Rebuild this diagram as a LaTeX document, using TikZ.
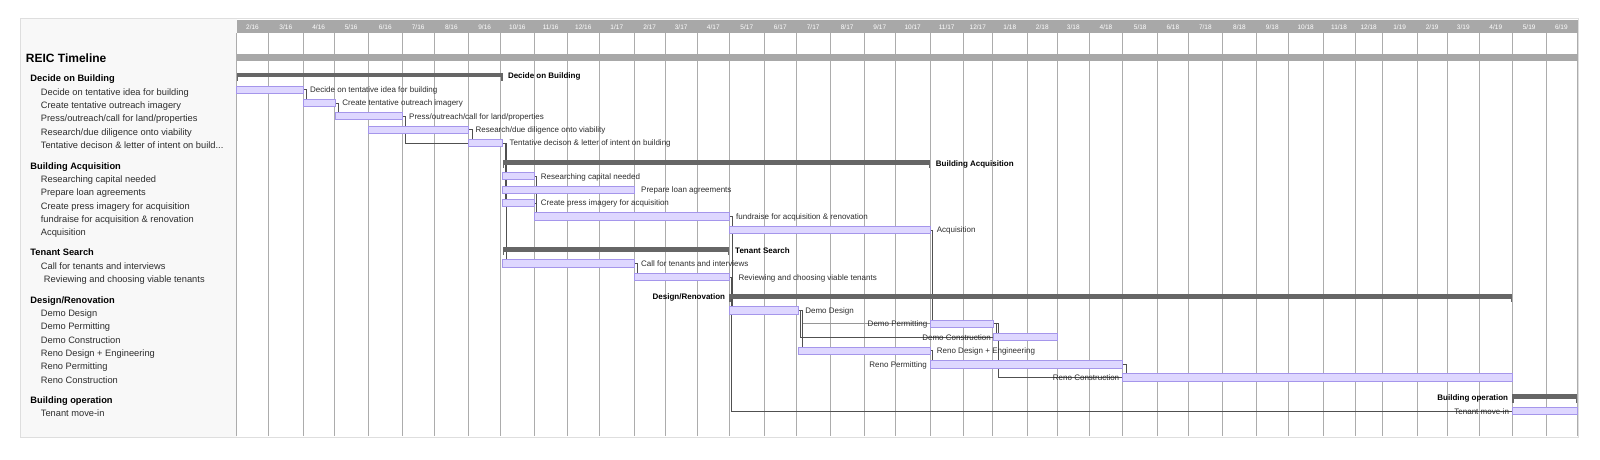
\documentclass[tikz,border=0pt]{standalone}
\usepackage{fontspec}
\setmainfont{Liberation Sans}
\usetikzlibrary{calc}
\definecolor{barfill}{RGB}{222,215,255}
\definecolor{barline}{RGB}{165,150,235}
\definecolor{grpc}{RGB}{102,102,102}
\definecolor{hdr}{RGB}{168,168,168}
\definecolor{gridc}{RGB}{172,172,172}
\definecolor{connc}{RGB}{80,80,80}
\definecolor{connl}{RGB}{150,150,150}
\definecolor{panelc}{RGB}{248,248,248}
\definecolor{panelb}{RGB}{222,222,222}
\definecolor{txtc}{RGB}{45,45,45}
\newcommand\mkbar[4]{\node[tbar, minimum width={#3pt-#2pt}] (#1) at (#2,#4) {};}
\newcommand\mkgrp[4]{\node[gbar, minimum width={#3pt-#2pt}] (#1) at (#2,#4) {};
  \draw[gtick] ([xshift=0.65pt]#1.south west) -- ++(0,3.5);
  \draw[gtick] ([xshift=-0.65pt]#1.south east) -- ++(0,3.5);}
\begin{document}
\begin{tikzpicture}[x=1pt,y=-1pt,
  tbar/.style={draw=barline, fill=barfill, line width=0.9pt, minimum height=7.2pt, inner sep=0pt, outer sep=0pt, anchor=west},
  gbar/.style={fill=grpc, minimum height=4.6pt, inner sep=0pt, outer sep=0pt, anchor=west},
  gtick/.style={draw=grpc, line width=1.3pt},
  link/.style={draw=connc, line width=0.8pt},
  linkl/.style={draw=connl, line width=0.8pt},
  gridline/.style={draw=gridc, line width=0.9pt},
  leftlbl/.style={anchor=west, inner sep=0pt, text height=6.7pt, text depth=0pt, font=\fontsize{9.3}{11}\selectfont, text=txtc},
  leftgrp/.style={anchor=west, inner sep=0pt, text height=6.7pt, text depth=0pt, font=\fontsize{9.3}{11}\selectfont\bfseries, text=black},
  titlelbl/.style={anchor=west, inner sep=0pt, text height=8.6pt, text depth=0pt, font=\fontsize{12}{14}\selectfont\bfseries, text=black},
  clbl/.style={inner sep=0pt, text height=5.8pt, text depth=0pt, font=\fontsize{8}{10}\selectfont, text=txtc},
  cgrp/.style={inner sep=0pt, text height=5.8pt, text depth=0pt, font=\fontsize{8}{10}\selectfont\bfseries, text=black},
  datelbl/.style={inner sep=0pt, text height=4.7pt, text depth=0pt, font=\fontsize{6.5}{8}\selectfont, text=white}
]
\useasboundingbox (0,0) rectangle (1600,459);
\fill[white] (0,0) rectangle (1600,459);
% panel
\draw[draw=panelb, fill=white, line width=0.9pt] (20.5,18.5) rectangle (1578,437);
\fill[panelc] (21,19) rectangle (236.7,436.5);
% header
\fill[hdr] (236.7,20) rectangle (1577.5,33.3);
\foreach \xa/\xb/\m/\y in {236.7/268.3/2/16,268.3/303.3/3/16,303.3/334/4/16,334/368.3/5/16,368.3/402.3/6/16,402.3/434/7/16,434/468.7/8/16,468.7/500.7/9/16,500.7/534/10/16,534/567.3/11/16,567.3/599.3/12/16,599.3/634.3/1/17,634.3/665/2/17,665/697.3/3/17,697.3/729.3/4/17,729.3/764.3/5/17,764.3/796.3/6/17,796.3/830/7/17,830/864.3/8/17,864.3/895.3/9/17,895.3/930/10/17,930/963.3/11/17,963.3/992.3/12/17,992.3/1027.3/1/18,1027.3/1057.3/2/18,1057.3/1089.3/3/18,1089.3/1122.7/4/18,1122.7/1157.7/5/18,1157.7/1188/6/18,1188/1222.7/7/18,1222.7/1256.3/8/18,1256.3/1288.3/9/18,1288.3/1323/10/18,1323/1355/11/18,1355/1382.3/12/18,1382.3/1417/1/19,1417/1447.3/2/19,1447.3/1479.3/3/19,1479.3/1512.3/4/19,1512.3/1546/5/19,1546/1576.7/6/19}
  \node[datelbl] (hd-\m-\y) at ({(\xa+\xb)/2},26.8) {\m/\y};
% grid
\foreach \gx in {236.7,268.3,303.3,334,368.3,402.3,434,468.7,500.7,534,567.3,599.3,634.3,665,697.3,729.3,764.3,796.3,830,864.3,895.3,930,963.3,992.3,1027.3,1057.3,1089.3,1122.7,1157.7,1188,1222.7,1256.3,1288.3,1323,1355,1382.3,1417,1447.3,1479.3,1512.3,1546,1577}
  \draw[gridline] (\gx,33.3) -- (\gx,435.5);
% summary bar
\fill[hdr] (236.7,54) rectangle (1577.5,61);
\node[titlelbl] (title) at (25.7,57.7) {REIC Timeline};

% ---------- left labels ----------
\node[leftgrp] (lg1) at (30.3,78.5) {Decide on Building};
\node[leftlbl] (lt11) at (40.7,91.7) {Decide on tentative idea for building};
\node[leftlbl] (lt12) at (40.7,105) {Create tentative outreach imagery};
\node[leftlbl] (lt13) at (40.7,118.3) {Press/outreach/call for land/properties};
\node[leftlbl] (lt14) at (40.7,131.7) {Research/due diligence onto viability};
\node[leftlbl] (lt15) at (40.7,145) {Tentative decison \& letter of intent on build...};
\node[leftgrp] (lg2) at (30.3,165.7) {Building Acquisition};
\node[leftlbl] (lt21) at (40.7,179) {Researching capital needed};
\node[leftlbl] (lt22) at (40.7,192.3) {Prepare loan agreements};
\node[leftlbl] (lt23) at (40.7,205.7) {Create press imagery for acquisition};
\node[leftlbl] (lt24) at (40.7,219) {fundraise for acquisition \& renovation};
\node[leftlbl] (lt25) at (40.7,232.3) {Acquisition};
\node[leftgrp] (lg3) at (30.3,252.3) {Tenant Search};
\node[leftlbl] (lt31) at (40.7,265.7) {Call for tenants and interviews};
\node[leftlbl] (lt32) at (43.7,279) {Reviewing and choosing viable tenants};
\node[leftgrp] (lg4) at (30.3,299.7) {Design/Renovation};
\node[leftlbl] (lt41) at (40.7,313) {Demo Design};
\node[leftlbl] (lt42) at (40.7,326.3) {Demo Permitting};
\node[leftlbl] (lt43) at (40.7,339.7) {Demo Construction};
\node[leftlbl] (lt44) at (40.7,353) {Reno Design + Engineering};
\node[leftlbl] (lt45) at (40.7,366.3) {Reno Permitting};
\node[leftlbl] (lt46) at (40.7,379.7) {Reno Construction};
\node[leftgrp] (lg5) at (30.3,399.7) {Building operation};
\node[leftlbl] (lt51) at (40.7,413) {Tenant move-in};

% ---------- bar coordinates (invisible first pass for connectors) ----------
\begin{scope}[tbar/.append style={draw=none, fill=none}, gbar/.append style={fill=none}, gtick/.append style={draw=none}]
\mkgrp{g1}{236.7}{502.5}{75}
\mkbar{t11}{236.7}{303.3}{89.7}
\mkbar{t12}{303.3}{335.5}{103}
\mkbar{t13}{335.5}{402.3}{116.3}
\mkbar{t14}{368.3}{468.7}{129.7}
\mkbar{t15}{468.7}{502.8}{143}
\mkgrp{g2}{502.8}{930}{162.5}
\mkbar{t21}{502.8}{534}{176.3}
\mkbar{t22}{502.8}{634.3}{189.7}
\mkbar{t23}{502.8}{534}{203}
\mkbar{t24}{534}{729.3}{216.5}
\mkbar{t25}{729.3}{930}{230}
\mkgrp{g3}{502.8}{729.3}{249.5}
\mkbar{t31}{502.8}{634.3}{263.5}
\mkbar{t32}{634.3}{729.3}{277.3}
\mkgrp{g4}{729.3}{1512.3}{296.3}
\mkbar{t41}{729.3}{798.4}{310.5}
\mkbar{t42}{930}{993.5}{323.8}
\mkbar{t43}{993.5}{1057.3}{337.3}
\mkbar{t44}{798.4}{930}{350.8}
\mkbar{t45}{930}{1122.7}{364.5}
\mkbar{t46}{1122.7}{1512.3}{377.5}
\mkgrp{g5}{1512.3}{1577}{396.7}
\mkbar{t51}{1512.3}{1577}{411.2}
\end{scope}

% ---------- connectors ----------
\draw[link] (t11.east) -- ++(3.3,0) coordinate (c11) -- (c11 |- t12.north);
\draw[link] (t12.east) -- ++(3.3,0) coordinate (c12) -- (c12 |- t13.north);
\draw[link] (t13.east) -- ++(3.3,0) |- (t15.west);
\draw[link] (t14.east) -- ++(3.3,0) coordinate (c14) -- (c14 |- t15.north);
\draw[link] (t15.east) -- ++(2.5,0) coordinate (c15) -- (c15 |- t21.north);
\draw[link] (t15.east) -- ++(2.5,0) coordinate (c15b) -- (c15b |- t22.north);
\draw[link] (t15.east) -- ++(2.5,0) coordinate (c15c) -- (c15c |- t23.north);
\draw[link] (t15.east) -- ++(3.8,0) coordinate (c15d) -- (c15d |- t31.north);
\draw[link] (t21.east) -- ++(2.8,0) coordinate (c21) -- (c21 |- t24.north);
\draw[link] (t23.east) -- ++(2.8,0) coordinate (c23) -- (c23 |- t24.north);
\draw[link] (t24.east) -- ++(3.4,0) coordinate (c24) -- (c24 |- t25.north);
\draw[link] (t24.east) -- ++(3.4,0) coordinate (c24b) -- (c24b |- t41.north);
\draw[link] (t25.east) -- ++(2.3,0) coordinate (c25) -- (c25 |- t42.north);
\draw[link] (t31.east) -- ++(3,0) coordinate (c31) -- (c31 |- t32.north);
\draw[link] (t32.east) -- ++(2.2,0) |- (t51.west);
\draw[linkl] (t41.east) -- ++(3.9,0) |- (t42.west);
\draw[link] (t41.east) -- ++(2.3,0) |- (t43.west);
\draw[link] (t41.east) -- ++(3.9,0) coordinate (c41) -- (c41 |- t44.north);
\draw[link] (t42.east) -- ++(2.5,0) coordinate (c42) -- (c42 |- t43.north);
\draw[link] (t42.east) -- ++(4.8,0) |- (t46.west);
\draw[link] (t44.east) -- ++(2.3,0) coordinate (c44) -- (c44 |- t45.north);
\draw[link] (t45.east) -- ++(3.3,0) coordinate (c45) -- (c45 |- t46.north);

% ---------- visible bars ----------
\mkgrp{G1}{236.7}{502.5}{75}
\mkbar{T11}{236.7}{303.3}{89.7}
\mkbar{T12}{303.3}{335.5}{103}
\mkbar{T13}{335.5}{402.3}{116.3}
\mkbar{T14}{368.3}{468.7}{129.7}
\mkbar{T15}{468.7}{502.8}{143}
\mkgrp{G2}{502.8}{930}{162.5}
\mkbar{T21}{502.8}{534}{176.3}
\mkbar{T22}{502.8}{634.3}{189.7}
\mkbar{T23}{502.8}{534}{203}
\mkbar{T24}{534}{729.3}{216.5}
\mkbar{T25}{729.3}{930}{230}
\mkgrp{G3}{502.8}{729.3}{249.5}
\mkbar{T31}{502.8}{634.3}{263.5}
\mkbar{T32}{634.3}{729.3}{277.3}
\mkgrp{G4}{729.3}{1512.3}{296.3}
\mkbar{T41}{729.3}{798.4}{310.5}
\mkbar{T42}{930}{993.5}{323.8}
\mkbar{T43}{993.5}{1057.3}{337.3}
\mkbar{T44}{798.4}{930}{350.8}
\mkbar{T45}{930}{1122.7}{364.5}
\mkbar{T46}{1122.7}{1512.3}{377.5}
\mkgrp{G5}{1512.3}{1577}{396.7}
\mkbar{T51}{1512.3}{1577}{411.2}

% ---------- chart labels ----------
\node[cgrp, anchor=west] (cg1) at ([xshift=5.3pt,yshift=-0.6pt]G1.east) {Decide on Building};
\node[clbl, anchor=west] (c11l) at ([xshift=6.7pt]T11.east) {Decide on tentative idea for building};
\node[clbl, anchor=west] (c12l) at ([xshift=6.7pt]T12.east) {Create tentative outreach imagery};
\node[clbl, anchor=west] (c13l) at ([xshift=6.7pt]T13.east) {Press/outreach/call for land/properties};
\node[clbl, anchor=west] (c14l) at ([xshift=6.7pt]T14.east) {Research/due diligence onto viability};
\node[clbl, anchor=west] (c15l) at ([xshift=6.7pt]T15.east) {Tentative decison \& letter of intent on building};
\node[cgrp, anchor=west] (cg2) at ([xshift=5.7pt,yshift=-0.6pt]G2.east) {Building Acquisition};
\node[clbl, anchor=west] (c21l) at ([xshift=6.7pt]T21.east) {Researching capital needed};
\node[clbl, anchor=west] (c22l) at ([xshift=6.7pt]T22.east) {Prepare loan agreements};
\node[clbl, anchor=west] (c23l) at ([xshift=6.7pt]T23.east) {Create press imagery for acquisition};
\node[clbl, anchor=west] (c24l) at ([xshift=6.7pt]T24.east) {fundraise for acquisition \& renovation};
\node[clbl, anchor=west] (c25l) at ([xshift=6.7pt]T25.east) {Acquisition};
\node[cgrp, anchor=west] (cg3) at ([xshift=5.7pt,yshift=-0.6pt]G3.east) {Tenant Search};
\node[clbl, anchor=west] (c31l) at ([xshift=6.7pt]T31.east) {Call for tenants and interviews};
\node[clbl, anchor=west] (c32l) at ([xshift=9pt]T32.east) {Reviewing and choosing viable tenants};
\node[cgrp, anchor=east] (cg4) at ([xshift=-4pt,yshift=-0.5pt]G4.west) {Design/Renovation};
\node[clbl, anchor=west] (c41l) at ([xshift=6.7pt]T41.east) {Demo Design};
\node[clbl, anchor=east] (c42l) at ([xshift=-2.5pt]T42.west) {Demo Permitting};
\node[clbl, anchor=east] (c43l) at ([xshift=-2.5pt]T43.west) {Demo Construction};
\node[clbl, anchor=west] (c44l) at ([xshift=6.7pt]T44.east) {Reno Design + Engineering};
\node[clbl, anchor=east] (c45l) at ([xshift=-3pt]T45.west) {Reno Permitting};
\node[clbl, anchor=east] (c46l) at ([xshift=-3.3pt]T46.west) {Reno Construction};
\node[cgrp, anchor=east] (cg5) at ([xshift=-4pt,yshift=-0.6pt]G5.west) {Building operation};
\node[clbl, anchor=east] (c51l) at ([xshift=-3pt]T51.west) {Tenant move-in};
\end{tikzpicture}
\end{document}
